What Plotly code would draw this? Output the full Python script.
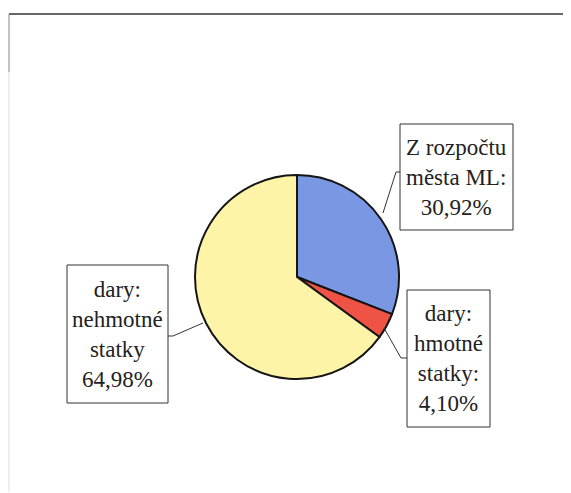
import plotly.graph_objects as go

OFF = 8  # default page body margin
W, H = 571 - OFF, 493 - OFF

categories = ["Z rozpočtu města ML", "dary: hmotné statky", "dary: nehmotné statky"]
shares = [30.92, 4.10, 64.98]
slice_colors = ["#7a97e3", "#ef5346", "#fdf4a7"]
label_texts = [
    "Z rozpočtu<br>města ML:<br>30,92%",
    "dary:<br>hmotné<br>statky:<br>4,10%",
    "dary:<br>nehmotné<br>statky<br>64,98%",
]


def px(x):
    return (x - OFF) / W


def py(y):
    return 1 - (y - OFF) / H


cx, cy, r = 297, 277, 102

fig = go.Figure(
    go.Pie(
        labels=categories,
        values=shares,
        sort=False,
        direction="clockwise",
        rotation=0,
        marker=dict(colors=slice_colors, line=dict(color="#151515", width=2)),
        textinfo="none",
        hoverinfo="label+percent",
        showlegend=False,
        domain=dict(x=[px(cx - r), px(cx + r)], y=[py(cy + r), py(cy - r)]),
    )
)

# label boxes (left, top, right, bottom) in page pixels and leader lines
boxes = [(400, 124, 513, 230), (407, 290, 490, 427), (67, 265, 168, 403)]
leaders = [
    [(383, 213), (396, 172), (400, 172)],
    [(384, 328), (401, 358), (407, 358)],
    [(203, 323), (173, 336), (168, 336)],
]

shapes = []
for (l, t, rr, b) in boxes:
    shapes.append(dict(type="rect", xref="paper", yref="paper",
                       x0=px(l), x1=px(rr), y0=py(b), y1=py(t),
                       line=dict(color="#333333", width=1), fillcolor="white", layer="below"))
for pts in leaders:
    path = "M " + " L ".join(f"{px(a):.5f},{py(b):.5f}" for a, b in pts)
    shapes.append(dict(type="path", xref="paper", yref="paper", path=path,
                       line=dict(color="#333333", width=1)))

# outer frame (scanned border)
shapes.append(dict(type="line", xref="paper", yref="paper", x0=px(9), x1=px(571), y0=py(14), y1=py(14),
                   line=dict(color="#666666", width=2)))
shapes.append(dict(type="line", xref="paper", yref="paper", x0=px(9), x1=px(9), y0=py(14), y1=py(72),
                   line=dict(color="#888888", width=1)))
shapes.append(dict(type="line", xref="paper", yref="paper", x0=px(9), x1=px(9), y0=py(72), y1=py(492),
                   line=dict(color="#dddddd", width=1)))

annotations = []
for (l, t, rr, b), txt in zip(boxes, label_texts):
    annotations.append(dict(text=txt, xref="paper", yref="paper",
                            x=px((l + rr) / 2), y=py((t + b) / 2),
                            xanchor="center", yanchor="middle", showarrow=False,
                            align="center",
                            font=dict(family="Liberation Serif", size=23, color="#222222")))

fig.update_layout(
    width=W, height=H,
    margin=dict(l=0, r=0, t=0, b=0),
    paper_bgcolor="white", plot_bgcolor="white",
    font=dict(family="Liberation Serif"),
    shapes=shapes, annotations=annotations,
)

fig.write_html("out.html")
